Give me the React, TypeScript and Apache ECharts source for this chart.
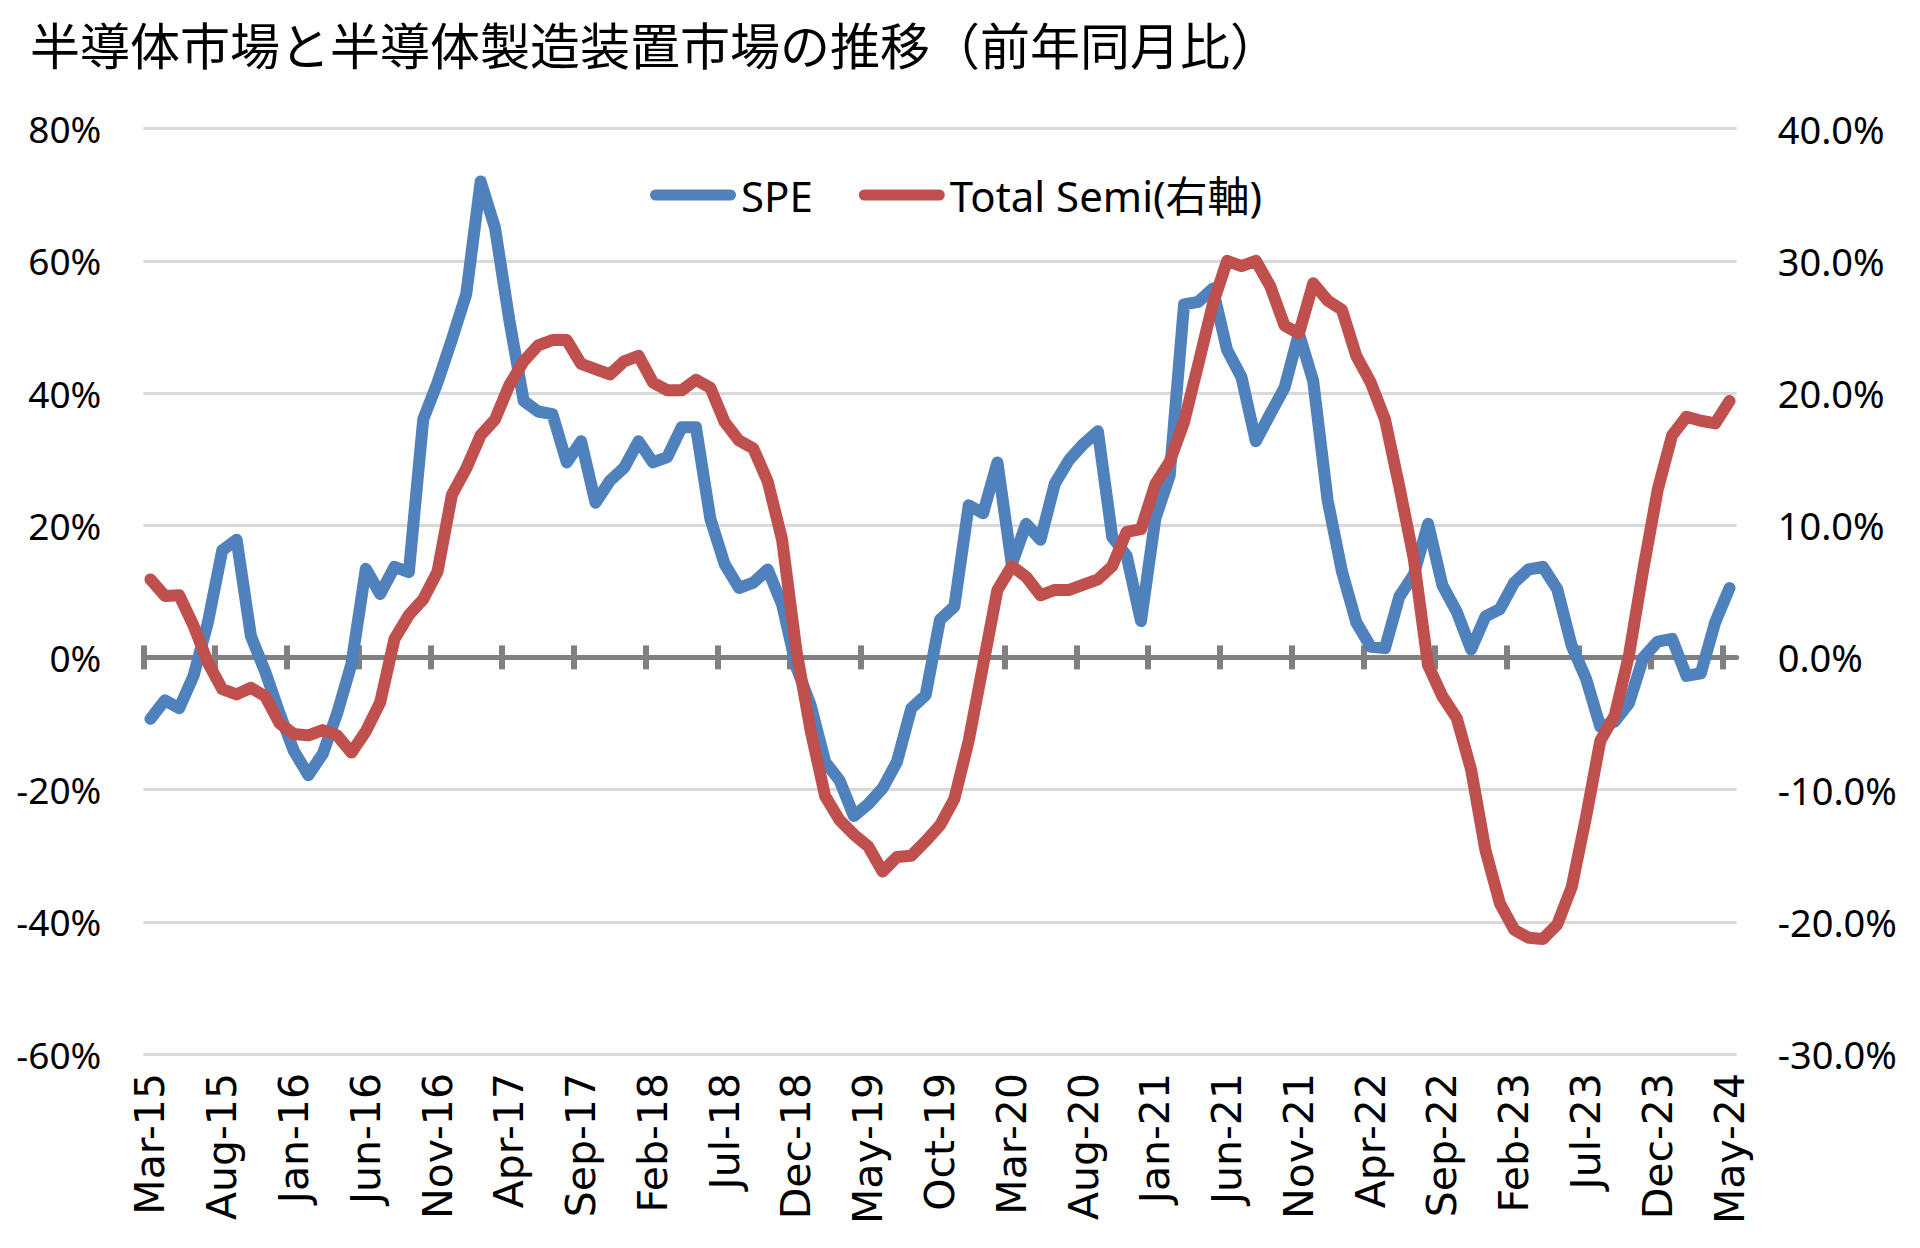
import React, { useEffect, useRef } from "react";
import * as echarts from "echarts";

// ---- Data ----
const TITLE = "半導体市場と半導体製造装置市場の推移（前年同月比）";
const SERIES_NAMES = ["SPE", "Total Semi(右軸)"];

const MONTH_NAMES = ["Jan", "Feb", "Mar", "Apr", "May", "Jun", "Jul", "Aug", "Sep", "Oct", "Nov", "Dec"];
const START_YEAR = 2015;
const START_MONTH_INDEX = 2; // Mar

// SPE, % YoY (left axis)
const SPE = [
  -9.3, -6.5, -7.7, -2.8, 5.3, 16.2, 17.8, 3.2, -2.2, -8.5,
  -14.2, -17.8, -14.6, -8.5, -1.0, 13.4, 9.6, 13.7, 12.9, 36.0,
  41.6, 48.1, 55.0, 72.0, 65.0, 51.0, 38.8, 37.2, 36.8, 29.5,
  32.7, 23.4, 26.7, 28.7, 32.7, 29.5, 30.3, 34.8, 34.8, 21.0,
  14.1, 10.5, 11.3, 13.3, 8.0, -1.5, -7.3, -15.8, -18.6, -24.0,
  -22.2, -19.8, -15.8, -7.7, -5.7, 5.7, 7.7, 23.0, 21.8, 29.5,
  14.1, 20.2, 17.8, 26.3, 29.9, 32.3, 34.2, 18.2, 15.4, 5.5,
  21.0, 27.5, 53.4, 53.8, 55.8, 46.5, 42.4, 32.7, 36.8, 40.8,
  49.0, 41.8, 23.8, 13.0, 5.3, 1.6, 1.4, 9.2, 12.5, 20.2,
  10.9, 6.9, 1.2, 6.2, 7.3, 11.3, 13.3, 13.7, 10.3, 1.8,
  -3.2, -10.5, -9.7, -6.9, 0.0, 2.4, 2.8, -2.8, -2.4, 5.3,
  10.5,
];

// Total Semi, % YoY (right axis)
const TOTAL_SEMI = [
  5.9, 4.65, 4.7, 2.4, -0.4, -2.4, -2.8, -2.3, -2.95, -5.0,
  -5.8, -5.9, -5.5, -5.9, -7.2, -5.6, -3.4, 1.4, 3.2, 4.4,
  6.5, 12.3, 14.3, 16.8, 18.0, 20.6, 22.4, 23.6, 24.0, 24.0,
  22.2, 21.8, 21.4, 22.4, 22.8, 20.8, 20.2, 20.2, 21.0, 20.4,
  17.8, 16.4, 15.8, 13.3, 8.9, 0.5, -5.6, -10.5, -12.3, -13.4,
  -14.3, -16.2, -15.1, -15.0, -13.9, -12.7, -10.7, -6.3, -0.6, 5.1,
  6.9, 6.1, 4.7, 5.1, 5.1, 5.5, 5.9, 6.9, 9.5, 9.7,
  13.1, 14.8, 17.8, 22.2, 26.7, 30.0, 29.6, 30.0, 28.1, 25.1,
  24.5, 28.3, 27.0, 26.3, 22.8, 20.8, 18.0, 12.9, 7.5, -0.6,
  -2.95, -4.6, -8.5, -14.6, -18.6, -20.6, -21.2, -21.3, -20.2, -17.4,
  -12.1, -6.3, -4.4, 0.2, 6.7, 12.7, 16.8, 18.2, 17.9, 17.7,
  19.4,
];

// Axis tick settings
const LEFT_MIN = -60;
const LEFT_MAX = 80;
const LEFT_STEP = 20;
const RIGHT_MIN = -30;
const RIGHT_MAX = 40;
const RIGHT_STEP = 10;
const LABEL_EVERY = 5;

const CATEGORIES = SPE.map((_, k) => {
  const m = START_MONTH_INDEX + k;
  const yr = (START_YEAR + Math.floor(m / 12)) % 100;
  return `${MONTH_NAMES[m % 12]}-${String(yr).padStart(2, "0")}`;
});
// category boundaries (for tick marks between categories)
const BOUNDARIES = Array.from({ length: CATEGORIES.length + 1 }, (_, k) => String(k));

const BLUE = "#4f81bd";
const RED = "#c0504d";
const AXIS_GRAY = "#808080";
const GRID_GRAY = "#d9d9d9";
const LINE_WIDTH = 12;

export default function App() {
  const ref = useRef<HTMLDivElement>(null);

  useEffect(() => {
    if (!ref.current) return;
    const chart = echarts.init(ref.current, undefined, { renderer: "svg" });
    const tickAxisBase = {
      type: "category",
      data: BOUNDARIES,
      boundaryGap: false,
      position: "bottom",
      axisLabel: { show: false },
      splitLine: { show: false },
    };
    chart.setOption({
      animation: false,
      backgroundColor: "#ffffff",
      title: {
        text: TITLE,
        left: 25,
        top: 13,
        textStyle: {
          fontFamily: "Noto Sans CJK JP",
          fontSize: 50,
          lineHeight: 50,
          fontWeight: "normal",
          color: "#000000",
        },
      },
      legend: {
        data: SERIES_NAMES,
        left: 645,
        top: 169,
        itemWidth: 86,
        itemHeight: 11,
        itemGap: 46,
        icon: "path://M5.5,0H80.5A5.5,5.5,0,0,1,80.5,11H5.5A5.5,5.5,0,0,1,5.5,0Z",
        textStyle: {
          fontFamily: "Noto Sans, Noto Sans CJK JP",
          fontSize: 42,
          color: "#000000",
        },
      },
      grid: {
        left: 143.3,
        right: 183.3,
        top: 128.6,
        bottom: 194,
        containLabel: false,
      },
      xAxis: [
        {
          type: "category",
          data: CATEGORIES,
          boundaryGap: true,
          position: "bottom",
          axisLine: { show: false, onZero: false },
          axisTick: { show: false },
          axisLabel: {
            interval: LABEL_EVERY - 1,
            rotate: 90,
            margin: 19,
            fontFamily: "DejaVu Sans",
            fontSize: 41,
            color: "#000000",
          },
          splitLine: { show: false },
        },
        {
          ...tickAxisBase,
          axisLine: {
            show: true,
            onZero: true,
            onZeroAxisIndex: 0,
            lineStyle: { color: AXIS_GRAY, width: 5 },
          },
          axisTick: {
            show: true,
            interval: LABEL_EVERY - 1,
            length: 12,
            lineStyle: { color: AXIS_GRAY, width: 6 },
          },
        },
        {
          ...tickAxisBase,
          axisLine: { show: false, onZero: true, onZeroAxisIndex: 0 },
          axisTick: {
            show: true,
            inside: true,
            interval: LABEL_EVERY - 1,
            length: 12,
            lineStyle: { color: AXIS_GRAY, width: 6 },
          },
        },
      ],
      yAxis: [
        {
          type: "value",
          position: "left",
          min: LEFT_MIN,
          max: LEFT_MAX,
          interval: LEFT_STEP,
          axisLine: { show: false },
          axisTick: { show: false },
          axisLabel: {
            formatter: (v: number) => `${v}%`,
            margin: 42,
            fontFamily: "Noto Sans",
            fontSize: 37,
            color: "#000000",
          },
          splitLine: { show: true, lineStyle: { color: GRID_GRAY, width: 3 } },
        },
        {
          type: "value",
          position: "right",
          min: RIGHT_MIN,
          max: RIGHT_MAX,
          interval: RIGHT_STEP,
          axisLine: { show: false },
          axisTick: { show: false },
          axisLabel: {
            formatter: (v: number) => `${v.toFixed(1)}%`,
            margin: 41,
            fontFamily: "Noto Sans",
            fontSize: 38,
            color: "#000000",
          },
          splitLine: { show: false },
        },
      ],
      series: [
        {
          name: SERIES_NAMES[0],
          type: "line",
          xAxisIndex: 0,
          yAxisIndex: 0,
          data: SPE,
          symbol: "none",
          showSymbol: false,
          itemStyle: { color: BLUE },
          lineStyle: { color: BLUE, width: LINE_WIDTH, cap: "round", join: "round" },
          z: 3,
        },
        {
          name: SERIES_NAMES[1],
          type: "line",
          xAxisIndex: 0,
          yAxisIndex: 1,
          data: TOTAL_SEMI,
          symbol: "none",
          showSymbol: false,
          itemStyle: { color: RED },
          lineStyle: { color: RED, width: LINE_WIDTH, cap: "round", join: "round" },
          z: 4,
        },
      ],
    });
    return () => chart.dispose();
  }, []);

  return (
    <div
      ref={ref}
      style={{ position: "fixed", left: 0, top: 0, width: "1920px", height: "1248px", background: "#fff" }}
    />
  );
}
